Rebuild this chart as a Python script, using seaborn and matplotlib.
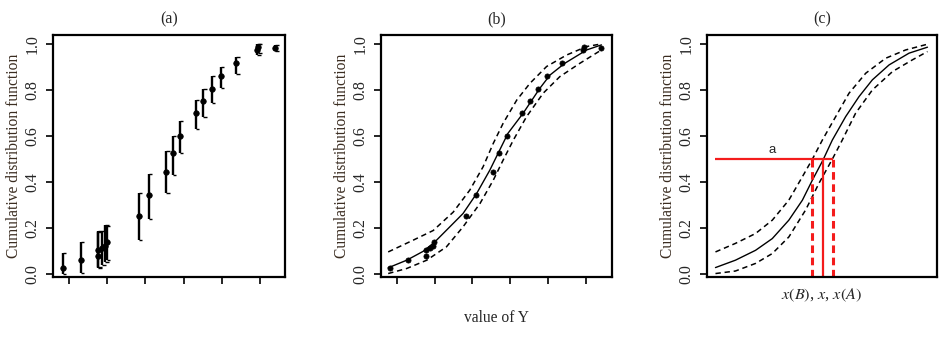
"""
Three-panel CDF figure: observed points with intervals, fitted CDF with band,
and the reading of x(B), x, x(A) at the 0.5 level.
"""

import matplotlib
matplotlib.use('Agg')
import matplotlib.pyplot as plt
import seaborn as sns

# observed cumulative frequencies (panels a and b)
obs_x = [0.83, 1.30, 1.76, 1.76, 1.87, 1.95, 1.98, 2.83, 3.08, 3.54,
         3.71, 3.90, 4.32, 4.51, 4.74, 4.97, 5.38, 5.93, 5.95, 6.39]
obs_y = [0.026, 0.061, 0.080, 0.104, 0.116, 0.122, 0.140, 0.253, 0.344, 0.446,
         0.525, 0.602, 0.700, 0.755, 0.805, 0.862, 0.917, 0.975, 0.990, 0.985]
obs_lo = [0.000, 0.005, 0.025, 0.030, 0.040, 0.055, 0.060, 0.151, 0.240, 0.351,
          0.431, 0.525, 0.631, 0.682, 0.743, 0.808, 0.871, 0.955, 0.960, 0.970]
obs_hi = [0.094, 0.138, 0.185, 0.190, 0.190, 0.215, 0.210, 0.354, 0.434, 0.537,
          0.600, 0.668, 0.758, 0.804, 0.862, 0.903, 0.946, 1.000, 1.000, 0.998]

# fitted CDF and its band, panel (b)
fit_b_x = [0.77, 1.26, 1.70, 2.00, 2.40, 2.75, 3.11, 3.46, 3.72, 3.94,
           4.34, 4.78, 5.05, 5.44, 6.02, 6.41]
fit_b_y = [0.028, 0.061, 0.100, 0.140, 0.206, 0.264, 0.351, 0.453, 0.540, 0.613,
           0.700, 0.808, 0.866, 0.917, 0.975, 0.997]
upper_b_x = [0.77, 1.43, 1.96, 2.49, 2.93, 3.28, 3.55, 3.81, 4.17, 4.52,
             4.96, 5.49, 6.02, 6.37]
upper_b_y = [0.097, 0.148, 0.190, 0.270, 0.366, 0.467, 0.569, 0.656, 0.757, 0.830,
             0.903, 0.953, 0.990, 1.000]
lower_b_x = [0.77, 1.26, 1.79, 2.31, 2.75, 3.20, 3.55, 3.81, 4.08, 4.43,
             4.87, 5.31, 5.84, 6.41]
lower_b_y = [0.003, 0.025, 0.061, 0.119, 0.206, 0.308, 0.409, 0.496, 0.583, 0.685,
             0.787, 0.859, 0.917, 0.975]

# fitted CDF and band, panel (c)
fit_c_x = [0.0, 0.094, 0.189, 0.268, 0.346, 0.410, 0.457, 0.507, 0.551, 0.614,
           0.677, 0.740, 0.819, 0.913, 1.0]
fit_c_y = [0.029, 0.061, 0.104, 0.155, 0.235, 0.322, 0.409, 0.496, 0.583, 0.685,
           0.772, 0.845, 0.910, 0.961, 0.987]
upper_c_x = [0.0, 0.094, 0.189, 0.268, 0.346, 0.410, 0.457, 0.504, 0.567, 0.630,
             0.709, 0.803, 0.897, 1.0]
upper_c_y = [0.097, 0.134, 0.177, 0.235, 0.322, 0.424, 0.500, 0.583, 0.685, 0.787,
             0.874, 0.939, 0.975, 1.000]
lower_c_x = [0.0, 0.094, 0.189, 0.268, 0.346, 0.425, 0.488, 0.551, 0.598, 0.661,
             0.740, 0.835, 0.929, 1.0]
lower_c_y = [0.003, 0.014, 0.047, 0.090, 0.162, 0.279, 0.395, 0.500, 0.583, 0.700,
             0.801, 0.881, 0.932, 0.968]

# reading at the 0.5 level
level = 0.5
x_B, x_mid, x_A = 0.453, 0.507, 0.556

titles = ['(a)', '(b)', '(c)']
ylabel = 'Cumulative distribution function'
yticks = [0.0, 0.2, 0.4, 0.6, 0.8, 1.0]
xticks = [1, 2, 3, 4, 5, 6]

sns.set_style('ticks')
plt.rcParams['font.family'] = ['Liberation Serif', 'DejaVu Serif']
plt.rcParams['mathtext.fontset'] = 'stix'

FS = 11.2
TICK_FS = 11.5
DASH = (0, (3.5, 2.5))

fig = plt.figure(figsize=(9.52, 3.54), dpi=100)
lefts = [53, 381, 707]
widths = [232, 231, 230]
axes = [fig.add_axes([l / 952, 77 / 354, w / 952, 242 / 354])
        for l, w in zip(lefts, widths)]


def style_axis(ax, title, xt):
    ax.set_ylim(-0.012, 1.04)
    ax.set_yticks(yticks)
    ax.set_yticklabels([f'{v:.1f}' for v in yticks], rotation=90,
                       va='center', fontsize=TICK_FS)
    ax.set_xticks(xt)
    ax.set_xticklabels([])
    ax.tick_params(length=5, width=1.2, color='black', pad=4)
    for sp in ax.spines.values():
        sp.set_linewidth(1.6)
        sp.set_color('black')
        sp.set_visible(True)
    ax.set_title(title, fontsize=FS + 0.3, pad=8)
    ax.set_ylabel(ylabel, fontsize=FS, color='#3a2c20', va='center')
    ax.yaxis.set_label_coords(-0.17, 0.5)
    ax.grid(False)


# (a) observed points with intervals
ax = axes[0]
cap = 0.09
ax.vlines(obs_x, obs_lo, obs_hi, color='black', lw=1.7)
ax.hlines(obs_lo, obs_x, [x + cap for x in obs_x], color='black', lw=1.0)
ax.hlines(obs_hi, obs_x, [x + cap for x in obs_x], color='black', lw=1.0)
sns.scatterplot(x=obs_x, y=obs_y, s=16, color='black', edgecolor='black',
                linewidth=0.5, ax=ax, zorder=3)
ax.set_xlim(0.58, 6.65)
style_axis(ax, titles[0], xticks)

# (b) fitted CDF with band
ax = axes[1]
sns.lineplot(x=upper_b_x, y=upper_b_y, sort=False, estimator=None,
             color='black', lw=1.1, linestyle=DASH, ax=ax)
sns.lineplot(x=lower_b_x, y=lower_b_y, sort=False, estimator=None,
             color='black', lw=1.1, linestyle=DASH, ax=ax)
sns.lineplot(x=fit_b_x, y=fit_b_y, sort=False, estimator=None,
             color='black', lw=1.0, ax=ax)
sns.scatterplot(x=obs_x, y=obs_y, s=14, color='black', edgecolor='black',
                linewidth=0.5, ax=ax, zorder=3)
ax.set_xlim(0.58, 6.69)
style_axis(ax, titles[1], xticks)
ax.set_xlabel('value of Y', fontsize=FS)
ax.xaxis.set_label_coords(0.5, -0.17)
ax.xaxis.label.set_va('center')

# (c) reading x(B), x, x(A)
ax = axes[2]
sns.lineplot(x=upper_c_x, y=upper_c_y, sort=False, estimator=None,
             color='black', lw=1.1, linestyle=DASH, ax=ax)
sns.lineplot(x=lower_c_x, y=lower_c_y, sort=False, estimator=None,
             color='black', lw=1.1, linestyle=DASH, ax=ax)
sns.lineplot(x=fit_c_x, y=fit_c_y, sort=False, estimator=None,
             color='black', lw=1.0, ax=ax)
red = '#f41c1c'
ax.hlines(level, fit_c_x[0], x_A, color=red, lw=1.6)
ax.vlines(x_mid, -0.012, level, color=red, lw=1.6)
ax.vlines([x_B, x_A], -0.012, level, color=red, lw=2.2, linestyle=(0, (2.5, 1.5)))
ax.text(0.268, level + 0.012, 'a', ha='center', va='bottom', fontsize=9.5,
        family=['Liberation Sans', 'DejaVu Sans'])
ax.set_xlim(-0.04, 1.045)
style_axis(ax, titles[2], [])
ax.set_xlabel('$x(B)$, $x$, $x(A)$', fontsize=FS + 0.5)
ax.xaxis.set_label_coords(0.5, -0.075)
ax.xaxis.label.set_va('center')
for a in axes:
    a.legend_ = None

fig.savefig('out.png', dpi=100)
